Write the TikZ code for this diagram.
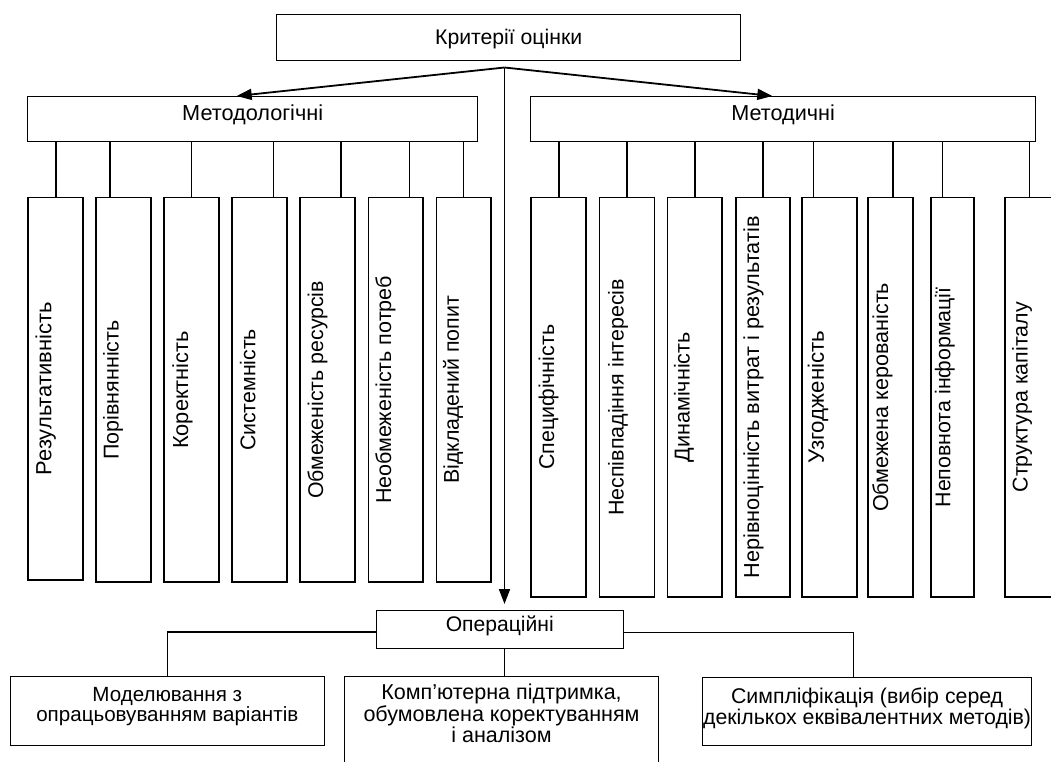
\documentclass[tikz,border=0pt]{standalone}
\usepackage{fontspec}
\setmainfont{Liberation Sans}
\usetikzlibrary{arrows.meta}
\newlength\fitwd
\newcommand\fitfont[2]{\settowidth\fitwd{\fontsize{20}{20}\selectfont #2}\pgfmathsetmacro\fitfs{20*#1/\fitwd}\fontsize{\fitfs pt}{19.5pt}\selectfont}
\newcommand\ft[2]{{\fitfont{#1}{#2}#2}}
\begin{document}
\begin{tikzpicture}[x=1pt,y=-1pt,
  every node/.style={inner sep=0pt, outer sep=0pt},
  thinbox/.style={draw=black, line width=1pt},
  vbox/.style={draw=black, line width=1.7pt},
  conn/.style={draw=black, line width=1.4pt},
  arr/.style={draw=black, line width=1.8pt, -{Triangle[length=15pt,width=11pt]}},
  lbl/.style={align=center},
  vtext/.style={rotate=90, anchor=north},
]
\clip (0,0) rectangle (1051,761);

% top level
\node[thinbox, anchor=north west, minimum width=464.3pt, minimum height=46pt] (crit) at (276.5,14.2) {};
\node[lbl, anchor=base] (critt) at ([yshift=-29.8pt]crit.north) {\ft{147}{Критерії оцінки}};
\coordinate (hub) at (504.5,67.5);

\node[thinbox, anchor=north west, minimum width=450pt, minimum height=45.3pt] (mlog) at (27.7,96) {};
\node[lbl, anchor=base] (mlogt) at ([yshift=-24pt]mlog.north) {\ft{141}{Методологічні}};

\node[thinbox, anchor=north west, minimum width=504.6pt, minimum height=45.5pt] (mdch) at (530.8,96) {};
\node[lbl, anchor=base] (mdcht) at ([yshift=-24pt]mdch.north) {\ft{103.5}{Методичні}};

\draw[arr] (hub) -- ([xshift=-16pt]mlog.north);
\draw[arr] (hub) -- ([xshift=-10.8pt]mdch.north);

% left vertical boxes
\foreach \i/\xl/\h/\cx/\o/\len/\t in {
  1/28.1/382.4/55.8/7.4/173/Результативність,
  2/96.3/384.7/109.9/6.8/139/Порівнянність,
  3/164.3/384.7/191.7/8.1/118/Коректність,
  4/232.3/384.7/273.5/7.7/122/Системність,
  5/300.2/384.7/341.1/7.4/218/Обмеженість ресурсів,
  6/368.5/384.7/409.4/6.8/228/Необмеженість потреб,
  7/436.4/384.7/463.5/6.5/188/Відкладений попит}{
  \node[vbox, anchor=north west, minimum width=54.8pt, minimum height=\h pt] (L\i) at (\xl,197.6) {};
  \node[vtext] (LT\i) at ([xshift=\o pt]L\i.west) {\ft{\len}{\t}};
  \coordinate (LC\i) at (\cx,0);
  \draw[conn] (mlog.south -| LC\i) -- (L\i.north -| LC\i);
}

% right vertical boxes
\foreach \i/\xl/\w/\cx/\o/\len/\t in {
  1/531.2/54.8/558.9/7.4/145/Специфічність,
  2/599.6/54.8/627/8.4/237/Неспівпадіння інтересів,
  3/667.6/54.6/695.1/6.5/130/Динамічність,
  4/735.7/54.5/763.1/7.8/362/Нерівноцінність витрат і результатів,
  5/802.1/54.9/813.3/5.7/133/Узгодженість,
  6/867.8/45.4/892.8/4.4/229/Обмежена керованість,
  7/930.8/43/942.3/4.0/220/Неповнота інформації,
  8/1005.3/50/1029.6/6.7/190/Структура капіталу}{
  \node[vbox, anchor=north west, minimum width=\w pt, minimum height=399.4pt] (R\i) at (\xl,197.6) {};
  \node[vtext] (RT\i) at ([xshift=\o pt]R\i.west) {\ft{\len}{\t}};
  \coordinate (RC\i) at (\cx,0);
  \draw[conn] (mdch.south -| RC\i) -- (R\i.north -| RC\i);
}

% operational
\node[thinbox, anchor=north west, minimum width=247pt, minimum height=38.6pt] (oper) at (376.3,610) {};
\node[lbl, anchor=base] (opert) at ([yshift=-21pt]oper.north) {\ft{108}{Операційні}};
\draw[arr] (hub) -- ([yshift=6pt]oper.north -| hub);

\node[thinbox, anchor=north west, minimum width=314.4pt, minimum height=68.7pt] (mod) at (10.1,676.6) {};
\node[lbl, anchor=north, font={\fitfont{262}{опрацьовуванням варіантів}}] (modt) at ([yshift=-11.2pt]mod.north) {Моделювання з\\опрацьовуванням варіантів};

\node[thinbox, anchor=north west, minimum width=313.4pt, minimum height=120pt] (comp) at (344.8,676.7) {};
\node[lbl, anchor=north, font={\fitfont{276}{обумовлена коректуванням}}] (compt) at ([yshift=-7.5pt]comp.north) {Комп’ютерна підтримка,\\обумовлена коректуванням\\і аналізом};

\node[thinbox, anchor=north west, minimum width=328.4pt, minimum height=68.7pt] (simp) at (702.9,677) {};
\node[lbl, anchor=north, font={\fitfont{328}{декількох еквівалентних методів)}}] (simpt) at ([yshift=-11pt]simp.north) {Симпліфікація (вибір серед\\декількох еквівалентних методів)};

\coordinate (rc) at (853.6,0);
\draw[conn, line width=1.2pt] ([yshift=-2.7pt]oper.west) -| (mod.north);
\draw[conn, line width=1.2pt] ([yshift=-3pt]oper.east) -| (simp.north -| rc);
\draw[conn, line width=1.2pt] (oper.south -| hub) -- (comp.north -| hub);
\end{tikzpicture}
\end{document}
